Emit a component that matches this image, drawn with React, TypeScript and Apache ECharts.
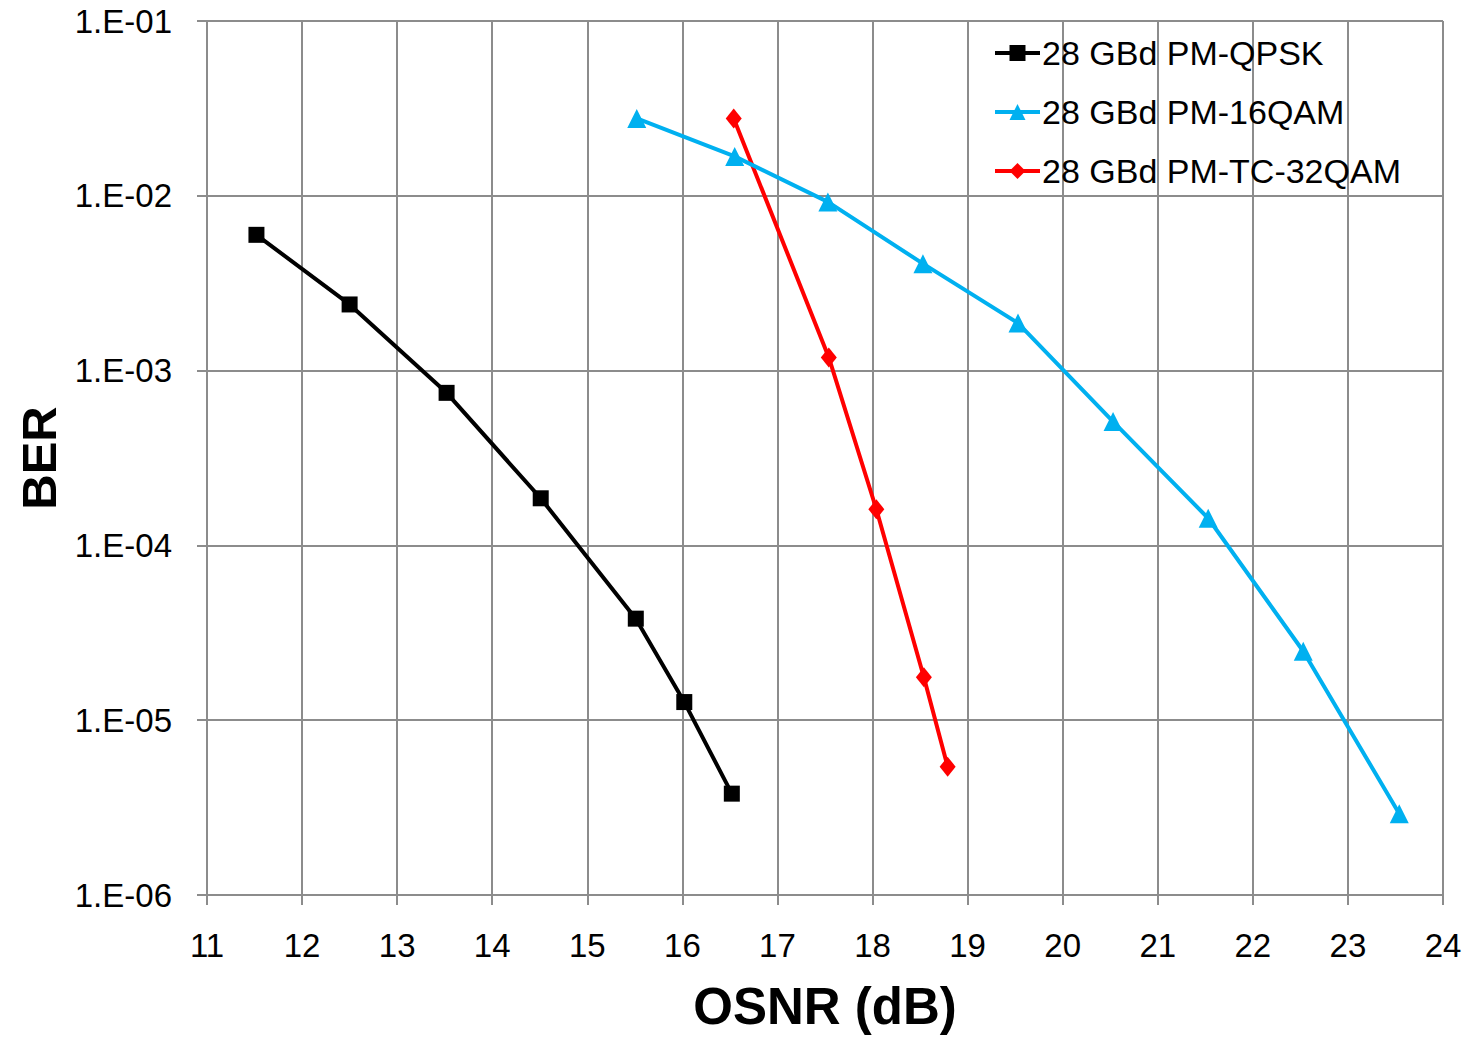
import React, { useEffect, useRef } from "react";
import * as echarts from "echarts";

const seriesNames = ["28 GBd PM-QPSK", "28 GBd PM-16QAM", "28 GBd PM-TC-32QAM"];
const seriesColors = ["#000000", "#00B0F0", "#FF0000"];
const seriesSymbols = ["rect", "triangle", "diamond"];
const seriesSymbolSizes: any[] = [16, 19, [16, 20]];

const qpskOSNR = [11.52, 12.5, 13.52, 14.51, 15.51, 16.02, 16.52];
const qpskBER = [5.98e-3, 2.39e-3, 7.46e-4, 1.86e-4, 3.81e-5, 1.27e-5, 3.8e-6];

const qam16OSNR = [15.52, 16.55, 17.53, 18.53, 19.53, 20.53, 21.53, 22.53, 23.54];
const qam16BER = [2.77e-2, 1.68e-2, 9.23e-3, 4.09e-3, 1.87e-3, 5.11e-4, 1.43e-4, 2.48e-5, 2.92e-6];

const qam32OSNR = [16.54, 17.54, 18.04, 18.54, 18.79];
const qam32BER = [2.77e-2, 1.19e-3, 1.61e-4, 1.76e-5, 5.42e-6];

const xMin = 11;
const xMax = 24;
const yMin = 1e-6;
const yMax = 1e-1;

const xTitle = "OSNR (dB)";
const yTitle = "BER";

const FONT = "Liberation Sans, Arial, sans-serif";

function pairs(xs: number[], ys: number[]) {
  return xs.map((x, i) => [x, ys[i]]);
}

export default function App() {
  const ref = useRef<HTMLDivElement>(null);
  useEffect(() => {
    if (!ref.current) return;
    const chart = echarts.init(ref.current, undefined, { renderer: "svg" });
    const data = [pairs(qpskOSNR, qpskBER), pairs(qam16OSNR, qam16BER), pairs(qam32OSNR, qam32BER)];
    const gridColor = "#8C8C8C";
    chart.setOption({
      animation: false,
      backgroundColor: "#ffffff",
      textStyle: { fontFamily: FONT },
      grid: { left: 207, right: 31, top: 21, bottom: 137, containLabel: false },
      legend: {
        orient: "vertical",
        left: 993,
        top: 36,
        padding: 0,
        itemWidth: 45,
        itemHeight: 20,
        itemGap: 25,
        lineStyle: { width: 4 },
        textStyle: { fontSize: 34, color: "#000", fontFamily: FONT, padding: [0, 0, 0, -3] },
        data: seriesNames,
      },
      xAxis: {
        type: "value",
        min: xMin,
        max: xMax,
        interval: 1,
        name: xTitle,
        nameLocation: "middle",
        nameGap: 86,
        nameTextStyle: { fontSize: 51, fontWeight: "bold", color: "#000", fontFamily: FONT },
        axisLine: { show: true, lineStyle: { color: gridColor, width: 2 } },
        axisTick: { show: true, length: 10, lineStyle: { color: gridColor, width: 2 } },
        axisLabel: { fontSize: 33, color: "#000", margin: 34, fontFamily: FONT },
        splitLine: { show: true, lineStyle: { color: gridColor, width: 2 } },
      },
      yAxis: {
        type: "log",
        logBase: 10,
        min: yMin,
        max: yMax,
        name: yTitle,
        nameLocation: "middle",
        nameGap: 144,
        nameTextStyle: { fontSize: 49, fontWeight: "bold", color: "#000", fontFamily: FONT },
        axisLine: { show: true, lineStyle: { color: gridColor, width: 2 } },
        axisTick: { show: true, length: 10, lineStyle: { color: gridColor, width: 2 } },
        axisLabel: {
          fontSize: 33,
          color: "#000",
          margin: 35,
          fontFamily: FONT,
          formatter: (v: number) => {
            const e = Math.round(Math.log10(v));
            const a = Math.abs(e);
            return "1.E" + (e < 0 ? "-" : "+") + (a < 10 ? "0" + a : "" + a);
          },
        },
        minorTick: { show: false },
        splitLine: { show: true, lineStyle: { color: gridColor, width: 2 } },
      },
      series: seriesNames.map((name, i) => ({
        name,
        type: "line",
        data: data[i],
        symbol: seriesSymbols[i],
        symbolSize: seriesSymbolSizes[i],
        showAllSymbol: true,
        lineStyle: { color: seriesColors[i], width: 4 },
        itemStyle: { color: seriesColors[i] },
        emphasis: { disabled: true },
        z: 3 - i,
      })),
    });
    return () => chart.dispose();
  }, []);
  return (
    <div
      ref={ref}
      style={{ position: "absolute", left: 0, top: 0, width: 1474, height: 1037 }}
    />
  );
}
